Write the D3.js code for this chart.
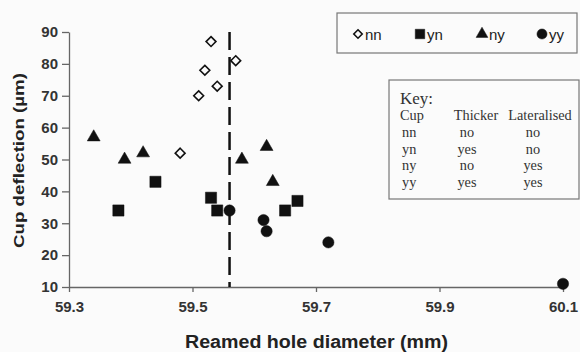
<!DOCTYPE html>
<html>
<head>
<script src="https://d3js.org/d3.v7.min.js"></script>
<style>
  body { margin: 0; background: #fbfbfb; }
  #chart { background: #fbfbfb; }
  .axis text { font: bold 15px Arial, "Liberation Sans", sans-serif; fill: #333; }
  .axis path, .axis line { stroke: #666; stroke-width: 1.3; }
  .title { font: bold 18px Arial, "Liberation Sans", sans-serif; fill: #222; }
  .leg text { font: 15px Arial, "Liberation Sans", sans-serif; fill: #222; }
  .key text { font: 14.3px "Liberation Serif", "Times New Roman", serif; fill: #333; }
</style>
</head>
<body>
<svg id="chart"></svg>
<script>
// data
var nn = [[59.53, 87], [59.52, 78], [59.54, 73], [59.51, 70], [59.57, 81], [59.48, 52]];
var yn = [[59.38, 34], [59.44, 43], [59.53, 38], [59.54, 34], [59.65, 34], [59.67, 37]];
var ny = [[59.34, 57], [59.39, 50], [59.42, 52], [59.58, 50], [59.62, 54], [59.63, 43]];
var yy = [[59.56, 34], [59.615, 31], [59.62, 27.5], [59.72, 24], [60.1, 11]];
var xTicks = [59.3, 59.5, 59.7, 59.9, 60.1];
var yTicks = [10, 20, 30, 40, 50, 60, 70, 80, 90];
var threshold = 59.56;
var seriesNames = ['nn', 'yn', 'ny', 'yy'];
var keyHeader = ['Cup', 'Thicker', 'Lateralised'];
var keyRows = [['nn', 'no', 'no'], ['yn', 'yes', 'no'], ['ny', 'no', 'yes'], ['yy', 'yes', 'yes']];

var W = 580, H = 352;
var margin = {left: 69, top: 32, right: 17, bottom: 65};

var svg = d3.select('#chart').attr('width', W).attr('height', H);
var g = svg.append('g').attr('transform', `translate(${margin.left},${margin.top})`);

var x = d3.scaleLinear().domain([59.3, 60.1]).range([0, 494]);
var y = d3.scaleLinear().domain([10, 90]).range([255, 0]);

g.append('g').attr('class', 'axis x').attr('transform', 'translate(0,255)')
  .call(d3.axisBottom(x).tickValues(xTicks).tickFormat(d3.format('.1f')).tickSize(5).tickSizeOuter(0).tickPadding(9));

g.append('g').attr('class', 'axis y')
  .call(d3.axisLeft(y).tickValues(yTicks).tickSize(7).tickSizeOuter(0).tickPadding(4));

// threshold dashed line
g.append('line')
  .attr('x1', x(threshold)).attr('x2', x(threshold))
  .attr('y1', y(90)).attr('y2', y(10))
  .attr('stroke', '#111').attr('stroke-width', 2.5)
  .attr('stroke-dasharray', '18,7');

var sym = {
  nn: d3.symbol().type(d3.symbolDiamond2).size(62),
  yn: d3.symbol().type(d3.symbolSquare).size(125),
  ny: d3.symbol().type(d3.symbolTriangle).size(72),
  yy: d3.symbol().type(d3.symbolCircle).size(100)
};
function drawSym(sel, k) {
  sel.attr('d', sym[k]())
    .attr('fill', k === 'nn' ? '#fbfbfb' : '#111')
    .attr('stroke', '#111')
    .attr('stroke-width', k === 'nn' ? 1.6 : 0.5);
}

var all = {nn: nn, yn: yn, ny: ny, yy: yy};
seriesNames.forEach(k => {
  g.selectAll('.p' + k).data(all[k]).enter().append('path')
    .attr('class', 'p' + k)
    .attr('transform', d => `translate(${x(d[0])},${y(d[1])})`)
    .call(drawSym, k);
});

// axis titles
svg.append('text').attr('class', 'title')
  .attr('x', 185).attr('y', 348)
  .attr('textLength', 263).attr('lengthAdjust', 'spacingAndGlyphs')
  .text('Reamed hole diameter (mm)');
svg.append('text').attr('class', 'title')
  .attr('transform', 'translate(24,248) rotate(-90)')
  .style('font-size', '15px')
  .attr('textLength', 175).attr('lengthAdjust', 'spacingAndGlyphs')
  .text('Cup deflection (µm)');

// legend
var leg = svg.append('g').attr('class', 'leg');
leg.append('rect').attr('x', 337).attr('y', 13).attr('width', 240).attr('height', 40)
  .attr('fill', '#fbfbfb').attr('stroke', '#777').attr('stroke-width', 1.2);
var legX = [358, 420, 482, 542];
var legSize = {nn: 45, yn: 90, ny: 60, yy: 80};
seriesNames.forEach((k, i) => {
  leg.append('path').attr('transform', `translate(${legX[i]},34)`)
    .call(drawSym, k)
    .attr('d', d3.symbol().type(sym[k].type()).size(legSize[k])());
  leg.append('text').attr('x', legX[i] + 7).attr('y', 39.5).text(k);
});

// key table
var key = svg.append('g').attr('class', 'key');
key.append('rect').attr('x', 389).attr('y', 80).attr('width', 190).attr('height', 119)
  .attr('fill', '#fbfbfb').attr('stroke', '#777').attr('stroke-width', 1.2);
key.append('text').attr('x', 400).attr('y', 104).style('font-size', '17px').text('Key:');
var colX = [400, 467, 533];
key.append('text').attr('x', colX[0]).attr('y', 120).text(keyHeader[0]);
key.append('text').attr('x', 476).attr('y', 120).attr('text-anchor', 'middle').text(keyHeader[1]);
key.append('text').attr('x', 540).attr('y', 120).attr('text-anchor', 'middle').text(keyHeader[2]);
keyRows.forEach((r, i) => {
  var ry = 137 + i * 16.7;
  key.append('text').attr('x', colX[0] + 2).attr('y', ry).text(r[0]);
  key.append('text').attr('x', colX[1]).attr('y', ry).attr('text-anchor', 'middle').text(r[1]);
  key.append('text').attr('x', colX[2]).attr('y', ry).attr('text-anchor', 'middle').text(r[2]);
});
</script>
</body>
</html>
